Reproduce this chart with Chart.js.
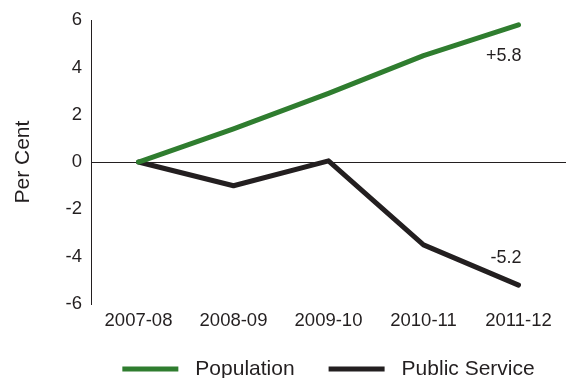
<!DOCTYPE html>
<html>
<head>
<meta charset="utf-8">
<script src="https://cdn.jsdelivr.net/npm/chart.js@4/dist/chart.umd.min.js"></script>
<style>
  html, body { margin: 0; padding: 0; background: #fff; }
  #wrap { width: 566px; height: 378px; }
</style>
</head>
<body>
<div id="wrap"><canvas id="c" width="566" height="378"></canvas></div>
<script>
const categories = ['2007-08', '2008-09', '2009-10', '2010-11', '2011-12'];
const population = [0, 1.4, 2.9, 4.5, 5.8];
const publicService = [0, -1.0, 0.05, -3.5, -5.2];
const seriesNames = ['Population', 'Public Service'];
const endLabels = ['+5.8', '-5.2'];
const yMin = -6, yMax = 6, yStep = 2;
const axisTitle = 'Per Cent';

const GREEN = '#2f7d2f';
const BLACK = '#231f20';
const FONT = "'Liberation Sans', Arial, Helvetica, sans-serif";

const endLabelPlugin = {
  id: 'endLabels',
  afterDatasetsDraw(chart) {
    const ctx = chart.ctx;
    ctx.save();
    ctx.font = '18px ' + FONT;
    ctx.fillStyle = BLACK;
    ctx.textAlign = 'right';
    ctx.textBaseline = 'middle';
    chart.data.datasets.forEach((ds, i) => {
      const meta = chart.getDatasetMeta(i);
      const pt = meta.data[meta.data.length - 1];
      const dy = i === 0 ? 31 : -27;
      ctx.fillText(endLabels[i], pt.x + 3, pt.y + dy);
    });
    ctx.restore();
  }
};

const legendPlugin = {
  id: 'customLegend',
  afterDraw(chart) {
    const ctx = chart.ctx;
    const area = chart.chartArea;
    ctx.save();
    ctx.font = '21px ' + FONT;
    const lineLen = 56, gap = 17, spacing = 34;
    const items = chart.data.datasets.map(ds => ({
      text: ds.label, color: ds.borderColor, w: ctx.measureText(ds.label).width
    }));
    let total = 0;
    items.forEach((it, i) => { total += lineLen + gap + it.w + (i ? spacing : 0); });
    let x = (area.left + area.right) / 2 - total / 2;
    const y = 369;
    ctx.textBaseline = 'middle';
    ctx.textAlign = 'left';
    items.forEach((it) => {
      ctx.fillStyle = it.color;
      ctx.fillRect(x, y - 2.5, lineLen, 5);
      x += lineLen + gap;
      ctx.fillStyle = BLACK;
      ctx.fillText(it.text, x, y);
      x += it.w + spacing;
    });
    ctx.restore();
  }
};

new Chart(document.getElementById('c'), {
  type: 'line',
  data: {
    labels: categories,
    datasets: [
      { label: seriesNames[0], data: population, borderColor: GREEN, backgroundColor: GREEN,
        borderWidth: 5, pointRadius: 0, tension: 0, borderCapStyle: 'round', borderJoinStyle: 'round' },
      { label: seriesNames[1], data: publicService, borderColor: BLACK, backgroundColor: BLACK,
        borderWidth: 5, pointRadius: 0, tension: 0, borderCapStyle: 'round', borderJoinStyle: 'round' }
    ]
  },
  options: {
    responsive: false,
    animation: false,
    layout: { padding: { top: 20, right: 0, left: 0, bottom: 0 } },
    plugins: { legend: { display: false }, tooltip: { enabled: false } },
    scales: {
      x: {
        offset: true,
        grid: { display: false, drawTicks: false },
        border: { display: false },
        ticks: { padding: 6, color: BLACK, font: { family: FONT, size: 18.5 }, maxRotation: 0 },
        afterFit(s) { s.height = 74; }
      },
      y: {
        min: yMin, max: yMax,
        grid: {
          drawTicks: false,
          lineWidth: 1,
          color: (c) => (c.tick && c.tick.value === 0) ? BLACK : 'rgba(0,0,0,0)'
        },
        border: { display: true, color: BLACK, width: 1 },
        ticks: { stepSize: yStep, padding: 9, color: BLACK, font: { family: FONT, size: 18.5 } },
        title: { display: true, text: axisTitle, color: BLACK, font: { family: FONT, size: 21 }, padding: { top: 11, bottom: 0 } },
        afterFit(s) { s.width = 91; }
      }
    }
  },
  plugins: [endLabelPlugin, legendPlugin]
});
</script>
</body>
</html>
